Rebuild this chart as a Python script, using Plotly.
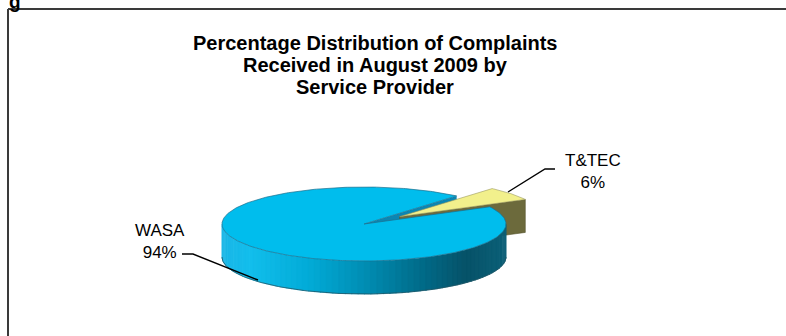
import numpy as np
import plotly.graph_objects as go

# ---------------- data ----------------
labels = ["WASA", "T&TEC"]
values = [94, 6]
title_lines = ["Percentage Distribution of Complaints",
               "Received in August 2009 by",
               "Service Provider"]

# ---------------- geometry / style ----------------
W, H = 786, 336
cx, cy = 364, 224          # centre of the top face (pixel-like axis units)
a, b = 142, 37             # ellipse semi axes
depth = 33                 # thickness of the 3-D pie
explode = [0.0, 0.32]      # pull-out fraction per slice
start_deg = 27.7           # angle where T&TEC slice starts (counter-clockwise)

FONT = "Liberation Sans, Arial, sans-serif"
top_colors = ["#00BDED", "#F2F08C"]
face_colors = ["#0B86B3", "#6C6A3C"]

total = float(sum(values))
spans = [v / total * 360.0 for v in values]
t0 = start_deg
t1 = t0 + spans[1]
w0 = t1
w1 = w0 + spans[0]


def offset(i, mid):
    r = explode[i]
    m = np.radians(mid)
    return r * a * np.cos(m), -r * b * np.sin(m)


def rim(theta_deg, off=(0, 0), dz=0.0):
    t = np.radians(theta_deg)
    return (cx + off[0] + a * np.cos(t), cy + off[1] - b * np.sin(t) + dz)


def arc(th0, th1, off=(0, 0), dz=0.0, n=120):
    ts = np.linspace(th0, th1, n)
    xs = [rim(t, off, dz)[0] for t in ts]
    ys = [rim(t, off, dz)[1] for t in ts]
    return xs, ys


fig = go.Figure()


def poly(xs, ys, fill, line_color=None, lw=0.0):
    fig.add_trace(go.Scatter(
        x=list(xs) + [xs[0]], y=list(ys) + [ys[0]], mode="lines",
        fill="toself", fillcolor=fill,
        line=dict(color=line_color or fill, width=lw),
        hoverinfo="skip", showlegend=False))


off_w = offset(0, (w0 + w1) / 2)
off_t = offset(1, (t0 + t1) / 2)

# WASA radial cut face visible inside the gap
ax_, ay_ = cx + off_w[0], cy + off_w[1]
rx, ry = rim(w0, off_w)
poly([ax_, rx, rx, ax_], [ay_, ry, ry + depth, ay_ + depth], face_colors[0])

# T&TEC radial cut face (olive)
tax, tay = cx + off_t[0], cy + off_t[1]
rx, ry = rim(t0, off_t)
poly([tax, rx, rx, tax], [tay, ry, ry + depth, tay + depth], face_colors[1],
     "#55542e", 0.6)

# T&TEC top face
xs, ys = arc(t0, t1, off_t)
poly([tax] + xs, [tay] + ys, top_colors[1], "#9a9860", 0.6)

# WASA outer wall with horizontal gradient
stops = [(0.00, (28, 182, 230)), (0.10, (18, 190, 236)), (0.30, (2, 172, 216)),
         (0.50, (0, 142, 180)), (0.70, (0, 108, 138)), (0.86, (6, 82, 104)),
         (1.00, (12, 96, 120))]


def grad(t):
    t = min(max(t, 0), 1)
    for (p0, c0), (p1, c1) in zip(stops[:-1], stops[1:]):
        if p0 <= t <= p1:
            f = (t - p0) / (p1 - p0)
            c = [round(c0[k] + f * (c1[k] - c0[k])) for k in range(3)]
            return "rgb(%d,%d,%d)" % tuple(c)
    return "rgb(%d,%d,%d)" % stops[-1][1]


N = 70
edges = np.linspace(180, 360, N + 1)
for i in range(N):
    e0, e1 = edges[i], edges[i + 1] + 0.4
    xt, yt = arc(e0, min(e1, 360), off_w, 0, 6)
    xb, yb = arc(min(e1, 360), e0, off_w, depth, 6)
    xm = (xt[0] + xt[-1]) / 2
    col = grad((xm - (cx - a)) / (2 * a))
    poly(xt + xb, yt + yb, col, col, 0.5)

xb, yb = arc(180, 360, off_w, depth)
fig.add_trace(go.Scatter(x=xb, y=yb, mode="lines",
                         line=dict(color="#1f5566", width=0.8),
                         hoverinfo="skip", showlegend=False))

# WASA top face
xs, ys = arc(w0, w1, off_w, 0, 400)
poly([ax_] + xs, [ay_] + ys, top_colors[0], "#1d6f8c", 0.7)

# ---------------- leader lines ----------------
leaders = [([182, 193, 258], [254, 254, 280]),
           ([508, 545, 555], [192, 169, 169])]
for lx, ly in leaders:
    fig.add_trace(go.Scatter(x=lx, y=ly, mode="lines",
                             line=dict(color="black", width=1.4),
                             hoverinfo="skip", showlegend=False))

# ---------------- labels ----------------
pcts = [round(v / total * 100) for v in values]
label_pos = [(160, 241), (593, 171.5)]
annotations = []
for lab, p, (lx, ly) in zip(labels, pcts, label_pos):
    annotations.append(dict(x=lx, y=ly, xref="x", yref="y",
                            showarrow=False, text=f"{lab}<br>{p}%",
                            align="center", yanchor="middle",
                            font=dict(family=FONT, size=17, color="black")))

title_y = [41, 63, 85]
for line, yy in zip(title_lines, title_y):
    annotations.append(dict(x=375, y=yy + 2, xref="x", yref="y",
                            showarrow=False, text="<b>" + line + "</b>",
                            yanchor="middle",
                            font=dict(family=FONT, size=20, color="black")))

# clipped heading letter above the frame (cut off in the source image too)
annotations.append(dict(x=7 / W, y=1, xref="paper", yref="paper",
                        showarrow=False, text="<b>g</b>", yanchor="bottom",
                        yshift=-14,
                        font=dict(family=FONT, size=19, color="black")))

shapes = [
    dict(type="line", xref="x", yref="y", x0=8, x1=W + 5, y0=9, y1=9,
         line=dict(color="#3a3a3a", width=2)),
    dict(type="line", xref="x", yref="y", x0=8, x1=8, y0=9, y1=H + 5,
         line=dict(color="#3a3a3a", width=2)),
]

fig.update_layout(
    width=W, height=H, margin=dict(l=0, r=0, t=0, b=0),
    paper_bgcolor="white", plot_bgcolor="white",
    xaxis=dict(range=[0, W], visible=False, fixedrange=True),
    yaxis=dict(range=[H, 0], visible=False, fixedrange=True),
    annotations=annotations, shapes=shapes, showlegend=False,
)

fig.write_html("out.html")
